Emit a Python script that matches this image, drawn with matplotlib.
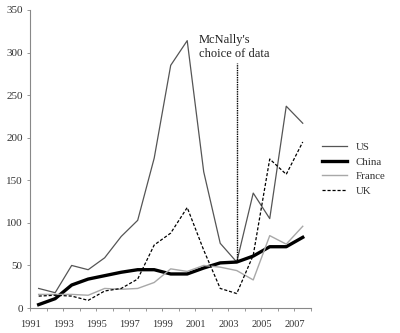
import numpy as np
from matplotlib import pyplot as plt

plt.rcParams['font.family'] = ['Liberation Serif', 'DejaVu Serif']

years = np.arange(1991, 2008)
us = [23, 18, 50, 45, 59, 84, 103, 176, 285, 314, 160, 76, 54, 135, 105, 237, 217]
china = [4, 11, 27, 34, 38, 42, 45, 45, 40, 40, 47, 53, 54, 61, 72, 72, 83]
france = [16, 16, 16, 15, 23, 22, 23, 30, 46, 43, 50, 48, 44, 33, 85, 75, 96]
uk = [14, 15, 14, 9, 20, 23, 34, 74, 88, 118, 68, 23, 17, 62, 175, 157, 195]
note_year = 2003
note_text = "McNally's\nchoice of data"

fig = plt.figure(figsize=(4, 3.33), dpi=100)
ax = fig.add_axes([0.076, 0.075, 0.7015, 0.895])

# each value sits in the middle of its year
x = years + 0.5
ax.plot(x, us, color='#555555', lw=0.9, label='US')
ax.plot(x, china, color='black', lw=2.4, label='China')
ax.plot(x, france, color='#a8a8a8', lw=1.0, label='France')
ax.plot(x, uk, color='black', lw=0.9, ls=(0, (2.5, 1.5)), label='UK')

i = list(years).index(note_year)
ax.vlines(note_year + 0.5, us[i], 288, color='black', lw=1.0,
          linestyles=(0, (1, 0.7)))
ax.text(note_year - 1.8, 291, note_text, fontsize=9, color='#222222',
        va='bottom', ha='left', linespacing=1.25)

ax.set_xlim(1991, 2008)
ax.set_ylim(0, 350)
ax.set_xticks(np.arange(1991, 2009))
ax.set_xticklabels([str(y) if y % 2 and y < 2008 else '' for y in range(1991, 2009)])
ax.set_yticks(np.arange(0, 351, 50))

for s in ['top', 'right']:
    ax.spines[s].set_visible(False)
for s in ['left', 'bottom']:
    ax.spines[s].set_color('#888888')
    ax.spines[s].set_linewidth(0.8)
ax.tick_params(length=2.5, width=0.6, color='#888888', labelsize=7.5,
               labelcolor='#333333', pad=3)
ax.tick_params(axis='y', labelsize=8)
ax.tick_params(axis='x', pad=6)

ax.legend(loc='upper left', bbox_to_anchor=(1.04, 0.555), frameon=False,
          fontsize=7.8, handlelength=2.3, handletextpad=0.8,
          labelspacing=0.45, borderpad=0, borderaxespad=0,
          labelcolor='#333333')

fig.savefig('out.png', dpi=100)
